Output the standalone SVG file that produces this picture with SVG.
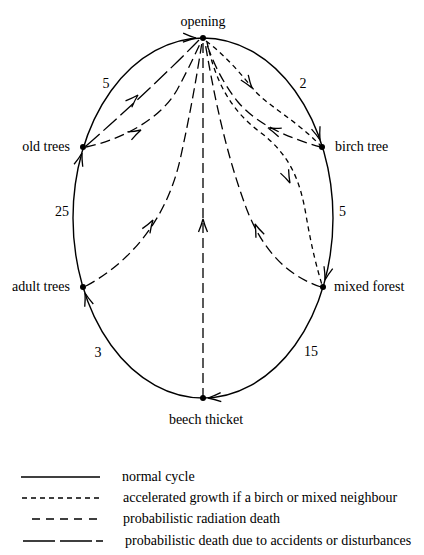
<svg xmlns="http://www.w3.org/2000/svg" width="424" height="555" viewBox="0 0 424 555">
<style>
text{font-family:"Liberation Serif","Times New Roman",serif;font-size:14px;fill:#000}
.solid{fill:none;stroke:#000;stroke-width:1.4}
.acc{fill:none;stroke:#000;stroke-width:1.3;stroke-dasharray:5 4}
.rad{fill:none;stroke:#000;stroke-width:1.3;stroke-dasharray:10 5}
.dis{fill:none;stroke:#000;stroke-width:1.3;stroke-dasharray:18 5}
.ah{fill:none;stroke:#000;stroke-width:1.3}
.dot{fill:#000}
</style>
<defs>
<path id="arr" d="M-13,-4.5 Q-6,-1.5 0,0 Q-6,1.5 -13,4.5" class="ah"/>
</defs>
<g id="connectors">
<ellipse class="solid" cx="203" cy="218" rx="130" ry="180"/>
<use href="#arr" transform="translate(196,38) rotate(2)"/>
<use href="#arr" transform="translate(320,140) rotate(71)"/>
<use href="#arr" transform="translate(325,280) rotate(105)"/>
<use href="#arr" transform="translate(208,398) rotate(176)"/>
<use href="#arr" transform="translate(85,293) rotate(-108)"/>
<use href="#arr" transform="translate(82,153) rotate(-74)"/>
<path class="acc" d="M206,41 C225,55 242,75 254,90 C268,106 296,120 321,146"/>
<use href="#arr" transform="translate(252,88) rotate(55)"/>
<path class="rad" d="M321,147 C292,139 258,126 238,102 C222,82 213,62 206,42"/>
<use href="#arr" transform="translate(268,128) rotate(200)"/>
<path class="acc" d="M207,42 C215,80 230,110 260,132 C290,155 300,180 306,215 C312,250 317,268 322,285"/>
<use href="#arr" transform="translate(290,183) rotate(65)"/>
<path class="rad" d="M321,287 C285,275 262,248 247,210 C232,170 218,120 205,42"/>
<use href="#arr" transform="translate(255,224) rotate(-113)"/>
<path class="dis" d="M86,146 Q150,90 199,40"/>
<use href="#arr" transform="translate(138,95) rotate(-44)"/>
<path class="rad" d="M86,147 C120,140 160,120 177,90 C190,66 196,52 201,42"/>
<use href="#arr" transform="translate(141,130) rotate(-27)"/>
<path class="rad" d="M86,286 C125,265 165,225 180,160 C190,115 197,75 202,42"/>
<use href="#arr" transform="translate(153,220) rotate(-58)"/>
<path class="rad" d="M203,398 L203,42"/>
<use href="#arr" transform="translate(203,219) rotate(-90)"/>
<text x="106" y="88" text-anchor="middle">5</text>
<text x="303" y="88" text-anchor="middle">2</text>
<text x="69" y="216" text-anchor="end">25</text>
<text x="339" y="216">5</text>
<text x="98" y="357" text-anchor="middle">3</text>
<text x="311" y="356" text-anchor="middle">15</text>
</g>
<g id="opening"><circle class="dot" cx="203" cy="38" r="3"/><text x="203" y="26" text-anchor="middle">opening</text></g>
<g id="old-trees"><circle class="dot" cx="83" cy="147" r="3"/><text x="70" y="151" text-anchor="end">old trees</text></g>
<g id="birch-tree"><circle class="dot" cx="322" cy="147" r="3"/><text x="335" y="151">birch tree</text></g>
<g id="adult-trees"><circle class="dot" cx="83" cy="287" r="3"/><text x="70" y="291" text-anchor="end">adult trees</text></g>
<g id="mixed-forest"><circle class="dot" cx="323" cy="287" r="3"/><text x="334" y="291">mixed forest</text></g>
<g id="beech-thicket"><circle class="dot" cx="203" cy="398" r="3"/><text x="206" y="424" text-anchor="middle">beech thicket</text></g>
<g id="legend">
<line class="solid" x1="21" y1="477" x2="100" y2="477"/>
<text x="122" y="481">normal cycle</text>
<line class="acc" x1="22" y1="498" x2="100" y2="498"/>
<text x="123" y="502">accelerated growth if a birch or mixed neighbour</text>
<path class="solid" d="M32,519 h8 M46,519 h8 M60,519 h8 M74,519 h8 M89,519 h8"/>
<text x="123" y="523">probabilistic radiation death</text>
<path class="solid" d="M23,541 h32 M60,541 h32 M96,541 h7"/>
<text x="125" y="545">probabilistic death due to accidents or disturbances</text>
</g>
</svg>
